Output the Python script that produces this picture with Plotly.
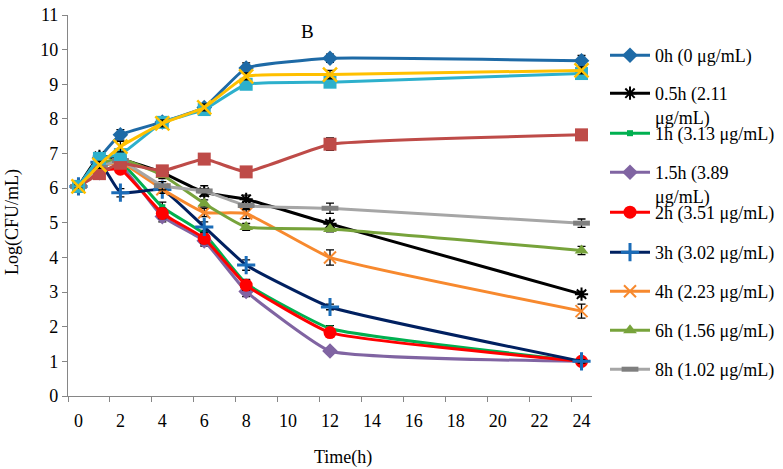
import plotly.graph_objects as go

# ---------------- data ----------------
time_h = [0, 1, 2, 4, 6, 8, 12, 24]

names = [
    "0h (0 μg/mL)",
    "0.5h (2.11<br>μg/mL)",
    "1h (3.13 μg/mL)",
    "1.5h (3.89<br>μg/mL)",
    "2h (3.51 μg/mL)",
    "3h (3.02 μg/mL)",
    "4h (2.23 μg/mL)",
    "6h (1.56 μg/mL)",
    "8h (1.02 μg/mL)",
]

v_0h = [6.05, 6.87, 7.54, 7.91, 8.33, 9.47, 9.75, 9.68]
v_05h = [6.05, 6.92, 6.85, 6.45, 5.88, 5.68, 4.97, 2.94]
v_1h = [6.05, 6.65, 6.75, 5.45, 4.68, 3.25, 1.95, 1.0]
v_15h = [6.05, 6.45, 6.65, 5.18, 4.48, 3.02, 1.3, 1.0]
v_2h = [6.05, 6.5, 6.55, 5.27, 4.55, 3.2, 1.83, 1.0]
v_3h = [6.05, 6.75, 5.87, 5.96, 4.88, 3.78, 2.57, 1.0]
v_4h = [6.05, 6.6, 6.75, 5.97, 5.3, 5.27, 4.0, 2.45]
v_6h = [6.05, 6.7, 6.85, 6.38, 5.56, 4.88, 4.82, 4.2]
v_8h = [6.05, 6.6, 6.8, 6.07, 5.92, 5.5, 5.42, 4.99]
v_extra_a = [6.05, 6.42, 6.72, 6.5, 6.84, 6.47, 7.27, 7.54]
v_extra_b = [6.05, 6.86, 6.97, 7.9, 8.27, 9.0, 9.06, 9.31]
v_extra_c = [6.05, 6.67, 7.2, 7.87, 8.33, 9.23, 9.28, 9.4]

e_0h = [0.05, 0.15, 0.15, 0.1, 0.1, 0.15, 0.12, 0.15]
e_05h = [0.05, 0.1, 0.1, 0.1, 0.1, 0.12, 0.1, 0.08]
e_1h = [0.05, 0.1, 0.1, 0.15, 0.1, 0.12, 0.08, 0.05]
e_15h = [0.05, 0.1, 0.1, 0.15, 0.15, 0.15, 0.08, 0.05]
e_2h = [0.05, 0.1, 0.1, 0.15, 0.15, 0.15, 0.08, 0.05]
e_3h = [0.05, 0.1, 0.12, 0.08, 0.15, 0.15, 0.08, 0.05]
e_4h = [0.05, 0.1, 0.1, 0.12, 0.12, 0.15, 0.22, 0.2]
e_6h = [0.05, 0.1, 0.1, 0.1, 0.1, 0.1, 0.08, 0.12]
e_8h = [0.05, 0.1, 0.1, 0.12, 0.15, 0.12, 0.15, 0.12]
e_extra_a = [0.05, 0.15, 0.1, 0.15, 0.1, 0.1, 0.18, 0.15]
e_extra_b = [0.05, 0.1, 0.1, 0.1, 0.1, 0.1, 0.1, 0.1]
e_extra_c = [0.05, 0.1, 0.15, 0.1, 0.1, 0.1, 0.12, 0.1]

x_ticks = list(range(0, 25, 2))
y_ticks = list(range(0, 12))

# ---------------- styles ----------------
FONT = "Liberation Serif"

styles = [
    # (line colour, marker symbol, marker size, marker colour, marker line width)
    ("#1E6AA6", "diamond", 12, "#1E6AA6", 0),
    ("#000000", "asterisk-open", 11, "#000000", 2),
    ("#00B050", "square", 6, "#00B050", 0),
    ("#8064A2", "diamond", 12, "#8064A2", 0),
    ("#FF0000", "circle", 13, "#FF0000", 0),
    ("#002060", "cross-thin-open", 13, "#1A6CB8", 3),
    ("#F7892E", "x-thin-open", 12, "#F7892E", 2),
    ("#77A33B", "triangle-up", 12, "#77A33B", 0),
    ("#A6A6A6", "line-ew-open", 12, "#7F7F7F", 5),
]
extra_styles = [
    ("#BE4B48", "square", 13, "#BE4B48", 0),
    ("#2DB0CC", "square", 13, "#2DB0CC", 0),
    ("#FFC000", "x-thin-open", 14, "#FFC000", 2.5),
]

main_vals = [v_0h, v_05h, v_1h, v_15h, v_2h, v_3h, v_4h, v_6h, v_8h]
main_errs = [e_0h, e_05h, e_1h, e_15h, e_2h, e_3h, e_4h, e_6h, e_8h]
extra_vals = [v_extra_a, v_extra_b, v_extra_c]
extra_errs = [e_extra_a, e_extra_b, e_extra_c]

# legend first-line centre y (px) for each entry
legend_y_px = [55, 93, 133, 172, 212, 252, 291, 330, 369]
W, H = 783, 469

fig = go.Figure()


def add_series(vals, errs, st, name=None, legend=None, show=True):
    lc, sym, size, mc, mlw = st
    open_sym = sym.endswith("open")
    fig.add_trace(go.Scatter(
        x=time_h, y=vals, name=name, mode="lines+markers",
        line=dict(color=lc, width=3, shape="spline", smoothing=0.35),
        marker=dict(symbol=sym, size=size, color=mc,
                    line=dict(color=mc, width=mlw if open_sym else 0)),
        error_y=dict(type="data", array=errs, visible=True,
                     color="#000000", thickness=1.3, width=4),
        showlegend=show, legend=legend,
    ))


for i, (vals, errs, st, nm) in enumerate(zip(main_vals, main_errs, styles, names)):
    lg = "legend" if i == 0 else f"legend{i+1}"
    add_series(vals, errs, st, nm, lg, True)

for vals, errs, st in zip(extra_vals, extra_errs, extra_styles):
    add_series(vals, errs, st, None, None, False)

layout_legends = {}
for i, py in enumerate(legend_y_px):
    key = "legend" if i == 0 else f"legend{i+1}"
    layout_legends[key] = dict(
        x=605 / W, y=1 - (py - 18) / H, xref="container", yref="container",
        xanchor="left", yanchor="top", valign="top",
        bgcolor="rgba(0,0,0,0)", borderwidth=0,
        font=dict(family=FONT, size=18, color="#000000"),
        itemwidth=40,
    )

axis_line = "#868686"
fig.update_layout(
    width=W, height=H,
    margin=dict(l=68, r=191, t=15, b=73, autoexpand=False),
    paper_bgcolor="white", plot_bgcolor="white",
    font=dict(family=FONT, size=18, color="#000000"),
    xaxis=dict(
        range=[-0.5, 24.5], tickmode="array", tickvals=x_ticks,
        ticks="", showgrid=False, zeroline=False,
        showline=True, linecolor=axis_line, linewidth=1.3,
        tickfont=dict(family=FONT, size=18, color="#000000"),
        ticklabelstandoff=8,
        minor=dict(tickmode="array", tickvals=[t - 0.5 for t in x_ticks],
                   ticks="outside", ticklen=5, tickcolor=axis_line, tickwidth=1.3,
                   showgrid=False),
    ),
    yaxis=dict(
        range=[0, 11], tickmode="array", tickvals=y_ticks,
        ticks="outside", ticklen=5, tickcolor=axis_line, tickwidth=1.3,
        showgrid=False, zeroline=False,
        showline=True, linecolor=axis_line, linewidth=1.3,
        tickfont=dict(family=FONT, size=18, color="#000000"),
    ),
    annotations=[
        dict(text="B", x=(307 - 68) / 524, y=(396 - 32) / 381, xref="paper", yref="paper",
             xanchor="center", yanchor="middle",
             showarrow=False, font=dict(family=FONT, size=19, color="#000000")),
        dict(text="Time(h)", x=(343 - 68) / 524, y=(396 - 457) / 381, xref="paper", yref="paper",
             xanchor="center", yanchor="middle",
             showarrow=False, font=dict(family=FONT, size=18, color="#000000")),
        dict(text="Log(CFU/mL)", x=(13 - 68) / 524, y=(396 - 222) / 381, xref="paper", yref="paper",
             xanchor="center", yanchor="middle",
             showarrow=False, textangle=-90, font=dict(family=FONT, size=18, color="#000000")),
    ],
    **layout_legends,
)

fig.write_html("out.html", config={"displayModeBar": False},
               post_script="document.body.style.margin='0';")
